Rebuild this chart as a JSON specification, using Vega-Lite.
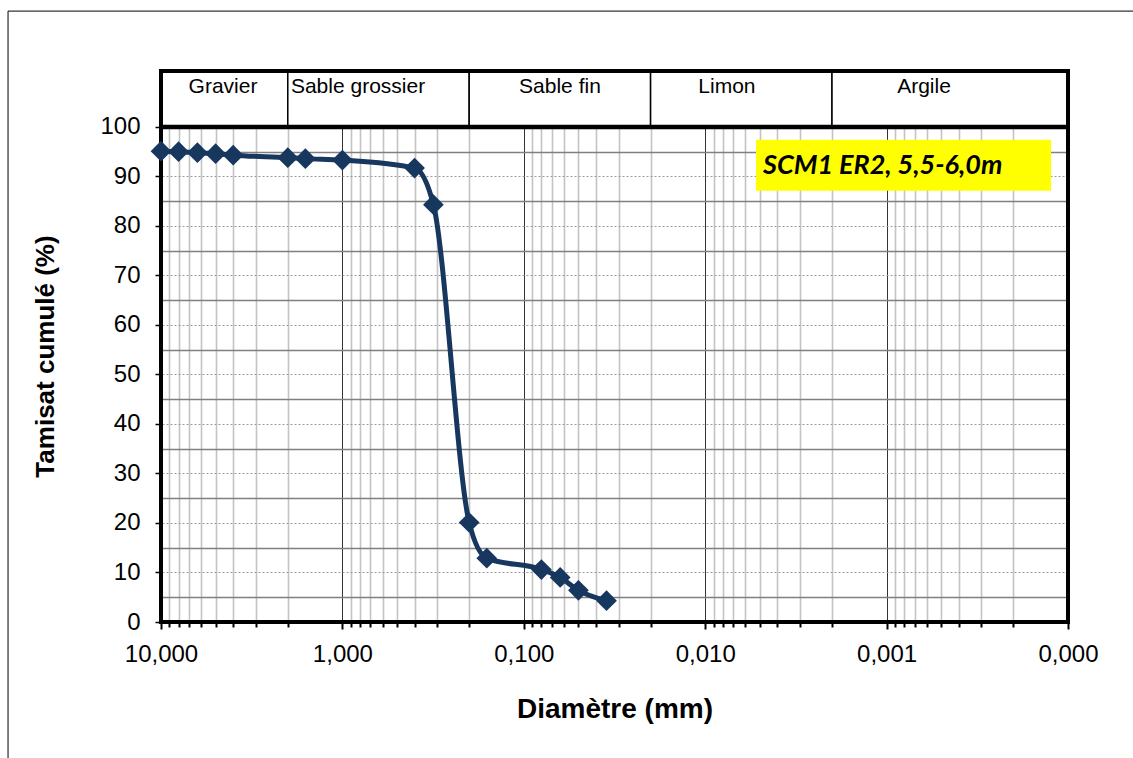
{
  "$schema": "https://vega.github.io/schema/vega-lite/v6.json",
  "autosize": {"type": "none"},
  "padding": {"left": 161, "top": 71, "right": 65, "bottom": 136},
  "width": 907,
  "height": 551,
  "background": "white",
  "config": {
    "view": {"stroke": null},
    "font": "Liberation Sans"
  },
  "datasets": {
    "pts": [
      {"d": 10, "p": 95.1},
      {"d": 8, "p": 95.0},
      {"d": 6.3, "p": 94.8},
      {"d": 5, "p": 94.6},
      {"d": 4, "p": 94.3},
      {"d": 2, "p": 93.8},
      {"d": 1.6, "p": 93.6},
      {"d": 1, "p": 93.3},
      {"d": 0.4, "p": 91.7},
      {"d": 0.315, "p": 84.3},
      {"d": 0.2, "p": 20.1},
      {"d": 0.16, "p": 12.9},
      {"d": 0.08, "p": 10.6},
      {"d": 0.063, "p": 9.0},
      {"d": 0.05, "p": 6.4},
      {"d": 0.035, "p": 4.3}
    ],
    "zones": [
      {"name": "Gravier", "dmax": 10, "dmin": 2, "lx": 4.55},
      {"name": "Sable grossier", "dmax": 2, "dmin": 0.2, "lx": 0.82},
      {"name": "Sable fin", "dmax": 0.2, "dmin": 0.02, "lx": 0.0632},
      {"name": "Limon", "dmax": 0.02, "dmin": 0.002, "lx": 0.00759},
      {"name": "Argile", "dmax": 0.002, "dmin": 0.0001, "lx": 0.000622}
    ],
    "note": [
      {"d1": 0.00525, "d2": 0.000124, "p1": 87.1, "p2": 97.4, "lx": 0.0048, "ly": 92.1, "label": "SCM1 ER2, 5,5-6,0m"}
    ]
  },
  "layer": [
    {
      "data": {"values": [{}]},
      "mark": {"type": "rect", "fill": null, "stroke": "black", "strokeWidth": 1},
      "encoding": {
        "x": {"datum": 69.7, "type": "quantitative", "scale": {"type": "log", "domain": [0.0001, 10], "reverse": true, "nice": false}, "axis": null},
        "x2": {"datum": 0.00001},
        "y": {"datum": -40, "type": "quantitative", "scale": {"domain": [0, 111.3], "nice": false, "zero": false}, "axis": null},
        "y2": {"datum": 123.4}
      }
    },
    {
      "data": {"name": "pts"},
      "mark": {"type": "point", "opacity": 0},
      "encoding": {
        "x": {"field": "d", "type": "quantitative",
          "scale": {"type": "log", "domain": [0.0001, 10], "reverse": true, "nice": false},
          "axis": {"orient": "bottom", "values": [9,8,7,6,5,4,3,2,0.9,0.8,0.7,0.6,0.5,0.4,0.3,0.2,0.09,0.08,0.07,0.06,0.05,0.04,0.03,0.02,0.009,0.008,0.007,0.006,0.005,0.004,0.003,0.002,0.0009,0.0008,0.0007,0.0006,0.0005,0.0004,0.0003,0.0002],
            "grid": true, "gridColor": "#c4c4c4", "gridWidth": 1.6, "labels": false, "domain": false,
            "ticks": true, "tickColor": "black", "tickSize": 5, "tickWidth": 2, "title": null}},
        "y": {"field": "p", "type": "quantitative",
          "scale": {"domain": [0, 111.3], "nice": false, "zero": false},
          "axis": {"orient": "left", "values": [5,15,25,35,45,55,65,75,85,95],
            "grid": true, "gridColor": "#808080", "gridWidth": 1.3, "labels": false, "ticks": false, "domain": false, "title": null}}
      }
    },
    {
      "data": {"name": "zones"},
      "mark": {"type": "rect", "fill": "white", "stroke": "black", "strokeWidth": 1.5},
      "encoding": {
        "x": {"field": "dmax", "type": "quantitative", "scale": {"type": "log", "domain": [0.0001, 10], "reverse": true, "nice": false}, "axis": null},
        "x2": {"field": "dmin"},
        "y": {"datum": 100, "type": "quantitative", "scale": {"domain": [0, 111.3], "nice": false, "zero": false}, "axis": null},
        "y2": {"datum": 111.3}
      }
    },
    {
      "data": {"name": "zones"},
      "mark": {"type": "text", "fontSize": 21, "font": "Liberation Sans", "color": "black", "align": "center", "baseline": "middle"},
      "encoding": {
        "x": {"field": "lx", "type": "quantitative", "scale": {"type": "log", "domain": [0.0001, 10], "reverse": true, "nice": false}, "axis": null},
        "y": {"datum": 108.1, "type": "quantitative", "scale": {"domain": [0, 111.3], "nice": false, "zero": false}, "axis": null},
        "text": {"field": "name"}
      }
    },
    {
      "data": {"values": [{}]},
      "mark": {"type": "rule", "color": "black", "strokeWidth": 4.5},
      "encoding": {
        "y": {"datum": 100, "type": "quantitative", "scale": {"domain": [0, 111.3], "nice": false, "zero": false}, "axis": null}
      }
    },
    {
      "data": {"name": "note"},
      "mark": {"type": "rect", "fill": "#FFFF00"},
      "encoding": {
        "x": {"field": "d1", "type": "quantitative", "scale": {"type": "log", "domain": [0.0001, 10], "reverse": true, "nice": false}, "axis": null},
        "x2": {"field": "d2"},
        "y": {"field": "p1", "type": "quantitative", "scale": {"domain": [0, 111.3], "nice": false, "zero": false}, "axis": null},
        "y2": {"field": "p2"}
      }
    },
    {
      "data": {"name": "note"},
      "mark": {"type": "text", "font": "Lato", "fontSize": 27, "fontWeight": "bold", "fontStyle": "italic", "color": "black", "align": "left", "baseline": "middle"},
      "encoding": {
        "x": {"field": "lx", "type": "quantitative", "scale": {"type": "log", "domain": [0.0001, 10], "reverse": true, "nice": false}, "axis": null},
        "y": {"field": "ly", "type": "quantitative", "scale": {"domain": [0, 111.3], "nice": false, "zero": false}, "axis": null},
        "text": {"field": "label"}
      }
    },
    {
      "data": {"values": [{}]},
      "mark": {"type": "rect", "fill": null, "stroke": "black", "strokeWidth": 4},
      "encoding": {
        "x": {"datum": 10, "type": "quantitative", "scale": {"type": "log", "domain": [0.0001, 10], "reverse": true, "nice": false}, "axis": null},
        "x2": {"datum": 0.0001},
        "y": {"datum": 0, "type": "quantitative", "scale": {"domain": [0, 111.3], "nice": false, "zero": false}, "axis": null},
        "y2": {"datum": 111.3}
      }
    },
    {
      "data": {"name": "pts"},
      "mark": {"type": "line", "color": "#17375E", "strokeWidth": 5, "interpolate": "monotone"},
      "encoding": {
        "x": {"field": "d", "type": "quantitative",
          "scale": {"type": "log", "domain": [0.0001, 10], "reverse": true, "nice": false},
          "axis": {"orient": "bottom", "values": [10, 1, 0.1, 0.01, 0.001, 0.0001],
            "labelExpr": "replace(format(datum.value, '.3f'), '.', ',')",
            "grid": true, "gridColor": "#333333", "gridWidth": 1, "domain": false,
            "ticks": true, "tickColor": "black", "tickSize": 7, "tickWidth": 2,
            "labelFontSize": 24, "labelColor": "black", "labelPadding": 13, "labelFlush": false, "labelOverlap": false,
            "title": "Diamètre (mm)", "titleFontSize": 28, "titleFontWeight": "bold", "titleColor": "black",
            "titleY": 87, "titleBaseline": "middle"}},
        "y": {"field": "p", "type": "quantitative",
          "scale": {"domain": [0, 111.3], "nice": false, "zero": false},
          "axis": {"orient": "left", "values": [0,10,20,30,40,50,60,70,80,90,100],
            "grid": true, "gridColor": "#9a9a9a", "gridWidth": 1, "gridDash": [2, 2], "domain": false,
            "ticks": true, "tickColor": "black", "tickSize": 6, "tickWidth": 1.5,
            "labelFontSize": 24, "labelColor": "black", "labelPadding": 15,
            "title": "Tamisat cumulé (%)", "titleFontSize": 26, "titleFontWeight": "bold", "titleColor": "black",
            "titleX": -116, "titleY": 285, "titleAngle": 270, "titleAlign": "center", "titleBaseline": "middle"}},
        "order": {"field": "d", "sort": "descending"}
      }
    },
    {
      "data": {"name": "pts"},
      "mark": {"type": "point", "shape": "diamond", "filled": true, "size": 430, "color": "#17375E", "opacity": 1},
      "encoding": {
        "x": {"field": "d", "type": "quantitative", "scale": {"type": "log", "domain": [0.0001, 10], "reverse": true, "nice": false}, "axis": null},
        "y": {"field": "p", "type": "quantitative", "scale": {"domain": [0, 111.3], "nice": false, "zero": false}, "axis": null}
      }
    }
  ],
  "resolve": {"axis": {"x": "independent", "y": "independent"}}
}
